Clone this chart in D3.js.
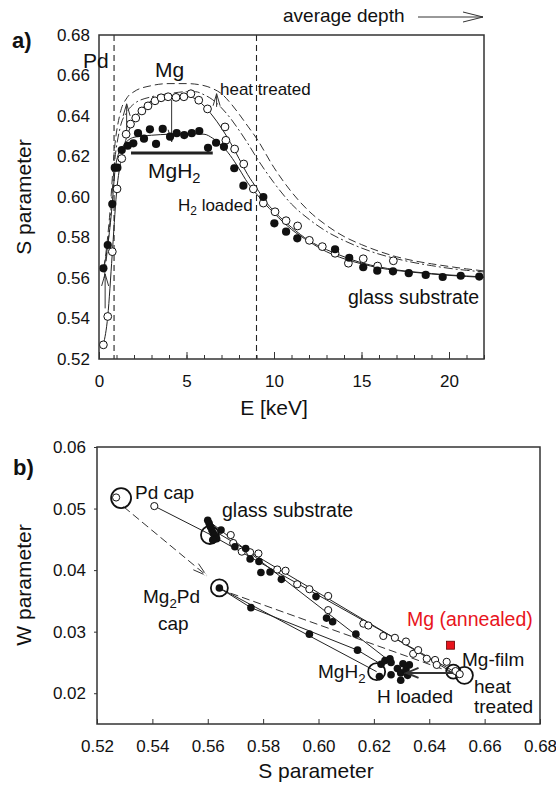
<!DOCTYPE html>
<html>
<head>
<meta charset="utf-8">
<script src="https://cdn.jsdelivr.net/npm/d3@7"></script>
<style>
  body { margin: 0; background: #fff; }
  text { font-family: "Liberation Sans", Arial, sans-serif; fill: #111; }
</style>
</head>
<body>
<svg id="chart"></svg>
<script>
// ---------- panel a: S parameter vs positron energy ----------
const eTicks = [0, 5, 10, 15, 20];
const sTicksA = [0.52, 0.54, 0.56, 0.58, 0.60, 0.62, 0.64, 0.66, 0.68];
const depthLines = [0.86, 9];

// as deposited (open circles)
const openPts = [
  [0.25, 0.527], [0.5, 0.541], [0.76, 0.573], [1.03, 0.604], [1.3, 0.619], [1.55, 0.631],
  [1.8, 0.636], [2.1, 0.639], [2.45, 0.6425], [2.8, 0.645], [3.2, 0.6475], [3.55, 0.649],
  [3.95, 0.6495], [4.4, 0.6492], [4.85, 0.6495], [5.25, 0.651], [5.7, 0.6478], [6.2, 0.6435],
  [7.2, 0.6346], [7.25, 0.628], [7.75, 0.6237], [8.27, 0.6163], [8.82, 0.604], [9.39, 0.597],
  [10.06, 0.5927], [10.69, 0.5883], [11.35, 0.5857], [12.02, 0.5786], [12.76, 0.5755],
  [13.49, 0.5722], [14.25, 0.5673], [15.1, 0.5695], [15.92, 0.5659], [16.82, 0.5685]
];
// H2 loaded (filled circles)
const filledPts = [
  [0.25, 0.5648], [0.5, 0.5763], [0.76, 0.5965], [0.9, 0.6145], [1.05, 0.6145], [1.3, 0.6232],
  [1.64, 0.6253], [1.96, 0.6265], [2.23, 0.6315], [2.57, 0.6288], [2.91, 0.6334], [3.26, 0.6262],
  [3.64, 0.6336], [4.06, 0.6298], [4.44, 0.6315], [4.87, 0.6306], [5.3, 0.6315], [5.73, 0.6326],
  [6.23, 0.6243], [6.69, 0.6268], [7.14, 0.6248], [7.73, 0.6142], [8.25, 0.6056], [9.39, 0.600],
  [10.02, 0.587], [10.69, 0.5829], [11.33, 0.5796], [13.49, 0.5742], [14.3, 0.570], [15.1, 0.5653],
  [15.9, 0.5636], [16.8, 0.5633], [17.7, 0.5624], [18.67, 0.5615], [19.64, 0.5605],
  [20.67, 0.5611], [21.73, 0.5607]
];
// fitted curves
const fitOpen = [
  [0.25, 0.527], [0.5, 0.541], [0.75, 0.571], [1.0, 0.602], [1.3, 0.620], [1.6, 0.630],
  [2.0, 0.638], [2.5, 0.644], [3.0, 0.6475], [3.5, 0.6495], [4.0, 0.650], [4.5, 0.6502],
  [5.0, 0.650], [5.5, 0.6485], [6.0, 0.645], [6.5, 0.640], [7.0, 0.634], [7.5, 0.627],
  [8.0, 0.619], [8.5, 0.611], [9.0, 0.6045], [9.5, 0.598], [10, 0.593], [11, 0.585],
  [12, 0.5785], [13, 0.574], [14, 0.5705], [15, 0.5675], [16, 0.5655], [17, 0.564],
  [18, 0.563], [19, 0.5622], [20, 0.5615], [21, 0.561], [22, 0.5605]
];
const fitFilled = [
  [0.25, 0.565], [0.5, 0.576], [0.75, 0.596], [0.9, 0.612], [1.1, 0.621], [1.4, 0.6255],
  [2, 0.6295], [3, 0.6305], [4, 0.631], [5, 0.6312], [6, 0.631], [6.5, 0.629], [7, 0.6255],
  [7.5, 0.6205], [8, 0.614], [8.5, 0.607], [9, 0.6015], [9.5, 0.5965], [10, 0.592], [11, 0.584],
  [12, 0.578], [13, 0.573], [14, 0.5695], [15, 0.567], [16, 0.565], [18, 0.5628], [20, 0.5613],
  [22, 0.5603]
];
const fitHeatDash = [
  [0.3, 0.565], [0.6, 0.59], [0.9, 0.625], [1.2, 0.641], [1.6, 0.649], [2, 0.652], [3, 0.655],
  [4, 0.656], [5, 0.656], [6, 0.655], [6.5, 0.6535], [7, 0.651], [7.5, 0.6465], [8, 0.641],
  [8.5, 0.635], [9, 0.629], [10, 0.6145], [11, 0.6025], [12, 0.593], [13, 0.586], [14, 0.5805],
  [15, 0.5765], [16, 0.5732], [17, 0.5705], [18, 0.5685], [19, 0.567], [20, 0.5657],
  [21, 0.5645], [22, 0.5635]
];
const fitHeatDot = [
  [0.3, 0.56], [0.6, 0.585], [0.9, 0.618], [1.2, 0.634], [1.6, 0.642], [2, 0.646], [3, 0.6495],
  [4, 0.651], [5, 0.652], [5.5, 0.652], [6, 0.6505], [6.5, 0.648], [7, 0.644], [7.5, 0.639],
  [8, 0.633], [8.5, 0.6265], [9, 0.6195], [10, 0.607], [11, 0.5965], [12, 0.589], [13, 0.583],
  [14, 0.5785], [15, 0.5748], [16, 0.5718], [17, 0.5695], [18, 0.5676], [19, 0.5661],
  [20, 0.5648], [21, 0.5638], [22, 0.563]
];
const mgh2Bar = [[1.83, 0.6217], [6.5, 0.6217]];
// arrows [E, S from, S to]
const arrowsA = [[0.35, 0.545, 0.562], [1.58, 0.632, 0.646], [4.15, 0.648, 0.6273], [6.72, 0.6445, 0.651]];

// ---------- panel b: W vs S ----------
const sTicksB = [0.52, 0.54, 0.56, 0.58, 0.60, 0.62, 0.64, 0.66, 0.68];
const wTicks = [0.02, 0.03, 0.04, 0.05, 0.06];

const openSW = [
  [0.5269, 0.0518], [0.5407, 0.0504], [0.5625, 0.0453], [0.5683, 0.0457], [0.5692, 0.0444],
  [0.5723, 0.0430], [0.5753, 0.0429], [0.5783, 0.0427], [0.5851, 0.0401], [0.5881, 0.0399],
  [0.5923, 0.0377], [0.5967, 0.0369], [0.6035, 0.0358], [0.6035, 0.0335], [0.6162, 0.0313],
  [0.618, 0.0310], [0.6234, 0.0293], [0.6276, 0.0290], [0.6316, 0.0284], [0.6342, 0.0264],
  [0.636, 0.0270], [0.6391, 0.0256], [0.6421, 0.0254], [0.6427, 0.0246], [0.6463, 0.0251],
  [0.6495, 0.0236], [0.651, 0.0231]
];
const filledSW = [
  [0.5600, 0.0481], [0.5605, 0.0476], [0.5610, 0.0470], [0.5615, 0.0465], [0.5620, 0.0460],
  [0.5625, 0.0456], [0.5632, 0.0451], [0.5648, 0.0465], [0.5618, 0.0449], [0.5642, 0.0371],
  [0.5698, 0.0438], [0.5737, 0.0435], [0.5753, 0.0418], [0.5756, 0.0339], [0.5785, 0.0414],
  [0.5792, 0.0396], [0.5825, 0.0397], [0.5866, 0.0385], [0.5967, 0.0296], [0.5991, 0.0357],
  [0.6029, 0.0322], [0.6051, 0.0316], [0.6135, 0.0296], [0.6141, 0.0270],
  [0.6226, 0.0247], [0.624, 0.0253], [0.6258, 0.0256], [0.6262, 0.0250], [0.622, 0.0227],
  [0.6262, 0.0230], [0.6285, 0.0240], [0.6297, 0.0233], [0.6297, 0.0221], [0.6316, 0.0238],
  [0.6322, 0.0229], [0.6305, 0.0248], [0.6328, 0.0246]
];
// big rings: [S, W, radius]
const rings = [
  [0.5287, 0.0517, 10], [0.5608, 0.0457, 9], [0.5642, 0.0371, 8.5],
  [0.621, 0.0235, 8.5], [0.6487, 0.0235, 7], [0.6527, 0.0229, 8.5]
];
const annealed = [[0.6477, 0.0278]];
const solidPaths = [
  [[0.5407, 0.0504], [0.5608, 0.0458], [0.6487, 0.0236]],
  [[0.5600, 0.0470], [0.6490, 0.0232]],
  [[0.5600, 0.0481], [0.6246, 0.0256]],
  [[0.5642, 0.0371], [0.5756, 0.0339], [0.6141, 0.0270], [0.6226, 0.0247]],
  [[0.5642, 0.0371], [0.621, 0.0235]]
];
const dashedPaths = [
  [[0.5642, 0.0369], [0.6487, 0.0233]]
];

// ---------- drawing ----------
const W = 556, H = 790;
const svg = d3.select('#chart').attr('width', W).attr('height', H);
svg.append('rect').attr('width', W).attr('height', H).attr('fill', '#fff');

function arrow(g, x1, y1, x2, y2, len, half, width) {
  const a = Math.atan2(y2 - y1, x2 - x1);
  const p = d3.path();
  p.moveTo(x1, y1); p.lineTo(x2, y2);
  p.moveTo(x2 - len * Math.cos(a) + half * Math.sin(a), y2 - len * Math.sin(a) - half * Math.cos(a));
  p.lineTo(x2, y2);
  p.lineTo(x2 - len * Math.cos(a) - half * Math.sin(a), y2 - len * Math.sin(a) + half * Math.cos(a));
  g.append('path').attr('d', p.toString()).attr('fill', 'none')
    .attr('stroke', '#333').attr('stroke-width', width || 1);
}

// panel a
const xa = d3.scaleLinear().domain([0, 22]).range([99, 484]);
const ya = d3.scaleLinear().domain([0.52, 0.68]).range([359, 35]);
const ga = svg.append('g');

ga.append('g').attr('transform', 'translate(0,359)')
  .call(d3.axisBottom(xa).tickValues(d3.range(0, 23)).tickSize(-4).tickFormat(''))
  .call(g => g.select('.domain').remove());
ga.append('g').attr('transform', 'translate(0,359)')
  .call(d3.axisBottom(xa).tickValues(eTicks).tickSize(-7).tickPadding(16))
  .call(g => g.select('.domain').remove());
ga.append('g').attr('transform', 'translate(99,0)')
  .call(d3.axisLeft(ya).tickValues(sTicksA).tickSize(0).tickPadding(9).tickFormat(d3.format('.2f')))
  .call(g => g.select('.domain').remove());
ga.selectAll('.tick text').attr('font-size', 17).attr('font-family', '"Liberation Sans", Arial, sans-serif').attr('fill', '#111');
ga.selectAll('.tick line').attr('stroke', '#333');

ga.selectAll('.depth').data(depthLines).join('line')
  .attr('x1', d => xa(d)).attr('x2', d => xa(d)).attr('y1', 35).attr('y2', 359)
  .attr('stroke', '#222').attr('stroke-dasharray', '6,4').attr('stroke-width', 1.1);

const lineA = d3.line().x(d => xa(d[0])).y(d => ya(d[1])).curve(d3.curveMonotoneX);
ga.append('path').attr('d', lineA(fitHeatDash)).attr('fill', 'none').attr('stroke', '#333')
  .attr('stroke-dasharray', '8,4');
ga.append('path').attr('d', lineA(fitHeatDot)).attr('fill', 'none').attr('stroke', '#333')
  .attr('stroke-dasharray', '9,3,2,3');
ga.append('path').attr('d', lineA(fitOpen)).attr('fill', 'none').attr('stroke', '#222');
ga.append('path').attr('d', lineA(fitFilled)).attr('fill', 'none').attr('stroke', '#222');
ga.append('path').attr('d', d3.line().x(d => xa(d[0])).y(d => ya(d[1]))(mgh2Bar))
  .attr('stroke', '#222').attr('stroke-width', 3);

arrowsA.forEach(d => arrow(ga, xa(d[0]), ya(d[1]), xa(d[0]), ya(d[2]), 12, 3.5, 1));

ga.selectAll('.op').data(openPts).join('circle')
  .attr('cx', d => xa(d[0])).attr('cy', d => ya(d[1])).attr('r', 3.9)
  .attr('fill', '#fff').attr('stroke', '#111').attr('stroke-width', 1);
ga.selectAll('.fp').data(filledPts).join('circle')
  .attr('cx', d => xa(d[0])).attr('cy', d => ya(d[1])).attr('r', 4.1)
  .attr('fill', '#111');

ga.append('rect').attr('x', 99).attr('y', 35).attr('width', 385).attr('height', 324)
  .attr('fill', 'none').attr('stroke', '#333').attr('stroke-width', 1.5);

// panel a texts
function txt(g, x, y, s, size, opts) {
  const t = g.append('text').attr('x', x).attr('y', y).attr('font-size', size).text(s);
  if (opts) Object.keys(opts).forEach(k => t.attr(k, opts[k]));
  return t;
}
function sub(g, x, y, main, subTxt, rest, size) {
  const t = g.append('text').attr('x', x).attr('y', y).attr('font-size', size);
  t.append('tspan').text(main);
  t.append('tspan').attr('font-size', size * 0.7).attr('dy', size * 0.25).text(subTxt);
  if (rest) t.append('tspan').attr('dy', -size * 0.25).text(rest);
  return t;
}
txt(ga, 12, 48, 'a)', 22, { 'font-weight': 'bold' });
txt(ga, 283, 22, 'average depth', 19);
arrow(ga, 418, 17, 483, 17, 20, 5, 1);
txt(ga, 31, 197, 'S parameter', 21, { 'text-anchor': 'middle', transform: 'rotate(-90,31,197)' });
txt(ga, 274, 415, 'E [keV]', 21, { 'text-anchor': 'middle' });
txt(ga, 83, 68, 'Pd', 21);
txt(ga, 155, 77, 'Mg', 21);
txt(ga, 220, 95, 'heat treated', 17);
sub(ga, 148, 178, 'MgH', '2', null, 21);
sub(ga, 178, 211, 'H', '2', ' loaded', 17);
txt(ga, 348, 304, 'glass substrate', 19.5);

// panel b
const xb = d3.scaleLinear().domain([0.52, 0.68]).range([97, 540]);
const yb = d3.scaleLinear().domain([0.015, 0.06]).range([724, 447]);
const gb = svg.append('g');

gb.append('g').attr('transform', 'translate(0,724)')
  .call(d3.axisBottom(xb).tickValues(sTicksB).tickSize(-5).tickPadding(16).tickFormat(d3.format('.2f')))
  .call(g => g.select('.domain').remove());
gb.append('g').attr('transform', 'translate(97,0)')
  .call(d3.axisLeft(yb).tickValues(wTicks).tickSize(3).tickPadding(8).tickFormat(d3.format('.2f')))
  .call(g => g.select('.domain').remove());
gb.selectAll('.tick text').attr('font-size', 17).attr('font-family', '"Liberation Sans", Arial, sans-serif').attr('fill', '#111');
gb.selectAll('.tick line').attr('stroke', '#333');

const lineB = d3.line().x(d => xb(d[0])).y(d => yb(d[1]));
gb.selectAll('.sp').data(solidPaths).join('path').attr('d', lineB)
  .attr('fill', 'none').attr('stroke', '#222').attr('stroke-width', 1);
gb.selectAll('.dp').data(dashedPaths).join('path').attr('d', lineB)
  .attr('fill', 'none').attr('stroke', '#333').attr('stroke-dasharray', '8,4');
arrow(gb, xb(0.5296), yb(0.0503), xb(0.5596), yb(0.0391), 14, 4, 1);
gb.append('path').attr('d', lineB([[0.5296, 0.0503], [0.5596, 0.0391]]))
  .attr('stroke', '#fff').attr('stroke-width', 2).attr('stroke-dasharray', '0,8,4,0');

gb.selectAll('.ring').data(rings).join('circle')
  .attr('cx', d => xb(d[0])).attr('cy', d => yb(d[1])).attr('r', d => d[2])
  .attr('fill', 'none').attr('stroke', '#111').attr('stroke-width', 1.8);
gb.selectAll('.osw').data(openSW).join('circle')
  .attr('cx', d => xb(d[0])).attr('cy', d => yb(d[1])).attr('r', 3.6)
  .attr('fill', '#fff').attr('stroke', '#111').attr('stroke-width', 1);
gb.selectAll('.fsw').data(filledSW).join('circle')
  .attr('cx', d => xb(d[0])).attr('cy', d => yb(d[1])).attr('r', 3.8)
  .attr('fill', '#111');
arrow(gb, xb(0.6487), yb(0.0233), xb(0.6318), yb(0.0233), 12, 5, 2);
gb.selectAll('.ann').data(annealed).join('rect')
  .attr('x', d => xb(d[0]) - 4).attr('y', d => yb(d[1]) - 4).attr('width', 8).attr('height', 8)
  .attr('fill', '#e8141c').attr('stroke', '#600').attr('stroke-width', 0.8);

gb.append('rect').attr('x', 97).attr('y', 447).attr('width', 443).attr('height', 277)
  .attr('fill', 'none').attr('stroke', '#333').attr('stroke-width', 1.5);

txt(gb, 13, 475, 'b)', 22, { 'font-weight': 'bold' });
txt(gb, 31, 585, 'W parameter', 21, { 'text-anchor': 'middle', transform: 'rotate(-90,31,585)' });
txt(gb, 316, 778, 'S parameter', 21, { 'text-anchor': 'middle' });
txt(gb, 135, 499, 'Pd cap', 19);
txt(gb, 222, 517, 'glass substrate', 19.5);
sub(gb, 143, 603, 'Mg', '2', 'Pd', 19);
txt(gb, 158, 630, 'cap', 19);
txt(gb, 407, 626, 'Mg (annealed)', 19.5, { fill: '#e8141c', style: 'fill:#e8141c' });
txt(gb, 462, 666, 'Mg-film', 19);
sub(gb, 318, 678, 'MgH', '2', null, 19);
txt(gb, 377, 703, 'H loaded', 19);
txt(gb, 474, 693, 'heat', 19);
txt(gb, 474, 713, 'treated', 19);
</script>
</body>
</html>
